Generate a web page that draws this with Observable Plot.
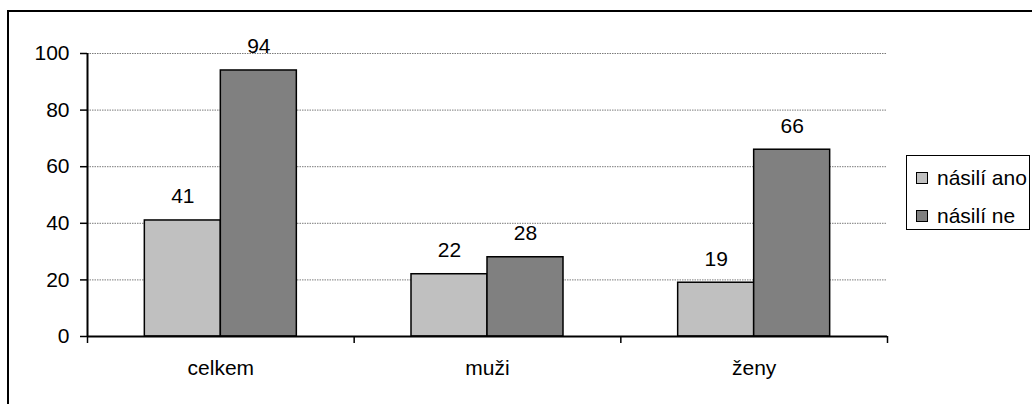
<!DOCTYPE html>
<html>
<head>
<meta charset="utf-8">
<script src="https://cdn.jsdelivr.net/npm/d3@7"></script>
<script src="https://cdn.jsdelivr.net/npm/@observablehq/plot@0.6"></script>
<style>
  html, body { margin: 0; padding: 0; background: #fff; overflow: hidden; }
  #wrap { position: relative; width: 1032px; height: 404px; font-family: "Liberation Sans", Arial, sans-serif; }
  #frame { position: absolute; left: 7px; top: 10px; width: 1100px; height: 500px; border: 2px solid #000; box-sizing: border-box; }
  #chart { position: absolute; left: 0; top: 0; }
  #legend { position: absolute; left: 906px; top: 155px; width: 124px; height: 75px; border: 1.5px solid #000; box-sizing: border-box; background: #fff; }
  .item { position: absolute; left: 9px; height: 24px; display: flex; align-items: center; font-size: 21px; color: #000; white-space: nowrap; }
  .sw { width: 10px; height: 10px; border: 1px solid #000; margin-right: 9px; }
</style>
</head>
<body>
<div id="wrap">
  <div id="frame"></div>
  <div id="chart"></div>
  <div id="legend"></div>
</div>
<script>
const categories = ["celkem", "muži", "ženy"];
const seriesNames = ["násilí ano", "násilí ne"];
const seriesColors = ["#c0c0c0", "#808080"];
const valuesAno = [41, 22, 19];
const valuesNe = [94, 28, 66];
const yTicks = [0, 20, 40, 60, 80, 100];

const barFrac = 0.285; // width of one bar as a fraction of a category slot
const rows = [];
categories.forEach((c, i) => {
  [valuesAno, valuesNe].forEach((vals, s) => {
    const x1 = i + 0.5 - barFrac + s * barFrac;
    rows.push({category: c, series: seriesNames[s], value: vals[i], x1, x2: x1 + barFrac});
  });
});

const chart = Plot.plot({
  width: 1032,
  height: 404,
  marginLeft: 87,
  marginRight: 145,
  marginTop: 53,
  marginBottom: 68,
  style: {fontFamily: "'Liberation Sans', Arial, sans-serif", fontSize: "21px", color: "#000", background: "transparent", overflow: "visible"},
  x: {type: "linear", domain: [0, categories.length], label: null},
  y: {domain: [0, 100], label: null},
  color: {domain: seriesNames, range: seriesColors},
  marks: [
    Plot.ruleY(yTicks.filter(d => d > 0), {stroke: "#7a7a7a", strokeWidth: 1, strokeDasharray: "1.5,1"}),
    Plot.rectY(rows, {x1: "x1", x2: "x2", y: "value", fill: "series", stroke: "#000", strokeWidth: 1.5}),
    Plot.text(rows, {x: d => (d.x1 + d.x2) / 2, y: "value", text: d => String(d.value), lineAnchor: "bottom", dy: -17, fill: "#000", fontSize: 21}),
    Plot.ruleX([0], {stroke: "#000", strokeWidth: 2}),
    Plot.ruleY([0], {stroke: "#000", strokeWidth: 2}),
    Plot.axisY({ticks: yTicks, tickSize: 7, tickPadding: 11, strokeWidth: 1.5, label: null, fontSize: 21}),
    Plot.axisX({ticks: d3.range(categories.length + 1), tickSize: 7, tickFormat: () => "", strokeWidth: 1.5, label: null}),
    Plot.axisX({ticks: categories.map((c, i) => i + 0.5), tickSize: 0, tickPadding: 24, tickFormat: d => categories[Math.floor(d)], label: null, fontSize: 21})
  ]
});
document.getElementById("chart").appendChild(chart);

const legend = document.getElementById("legend");
seriesNames.forEach((name, i) => {
  const item = document.createElement("div");
  item.className = "item";
  item.style.top = (10 + i * 38) + "px";
  const sw = document.createElement("span");
  sw.className = "sw";
  sw.style.background = seriesColors[i];
  const t = document.createElement("span");
  t.textContent = name;
  item.appendChild(sw);
  item.appendChild(t);
  legend.appendChild(item);
});
</script>
</body>
</html>
